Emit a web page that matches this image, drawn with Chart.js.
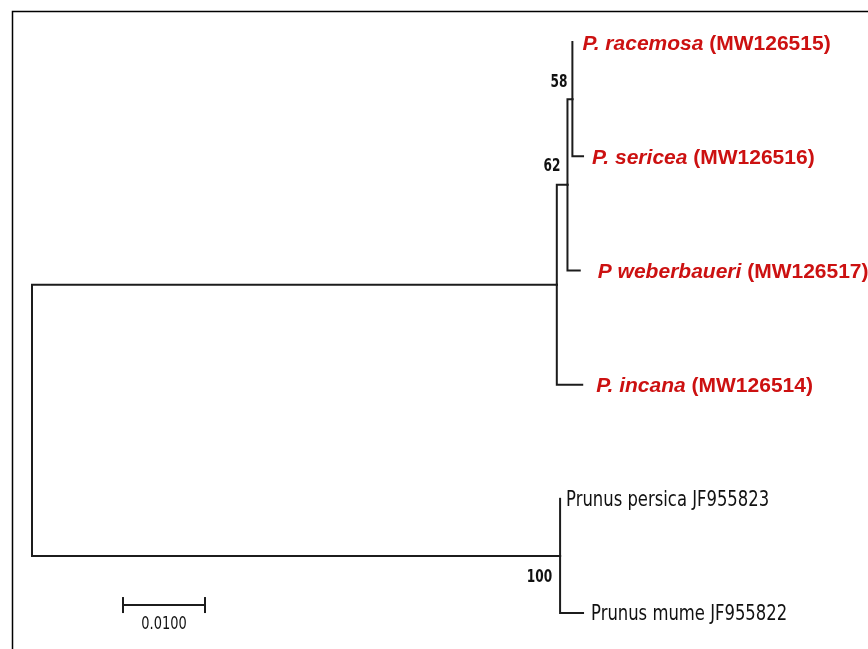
<!DOCTYPE html>
<html>
<head>
<meta charset="utf-8">
<script src="https://cdn.jsdelivr.net/npm/chart.js@4.4.1/dist/chart.umd.min.js"></script>
<style>
  html, body { margin: 0; padding: 0; background: #fff; }
  #wrap { width: 868px; height: 649px; }
</style>
</head>
<body>
<div id="wrap"><canvas id="treeChart" width="868" height="649"></canvas></div>
<script>
// tips (top to bottom)
const taxa = ['P. racemosa', 'P. sericea', 'P weberbaueri', 'P. incana', 'Prunus persica', 'Prunus mume'];
const accessions = ['(MW126515)', '(MW126516)', '(MW126517)', '(MW126514)', 'JF955823', 'JF955822'];
const tipRow = [0, 1, 2, 3, 4, 5];
const tipDepth = [0.0659, 0.0672, 0.0668, 0.0671, 0.0644, 0.0672];
const tipParent = ['n58', 'n58', 'n62', 'andean', 'prunus', 'prunus'];
const tipHighlight = [true, true, true, true, false, false];

// internal nodes
const nodeIds = ['root', 'andean', 'n62', 'n58', 'prunus'];
const nodeDepth = [0, 0.0640, 0.0653, 0.0659, 0.0644];
const nodeParent = [null, 'root', 'andean', 'n62', 'root'];
const bootstrap = [null, null, 62, 58, 100];

const scaleBarLength = 0.01;
const scaleBarLabel = '0.0100';

document.addEventListener('DOMContentLoaded', function() {
  // work out the row of every internal node from its children
  const nodeRow = {};
  function rowOf(id) {
    if (nodeRow[id] !== undefined) return nodeRow[id];
    const rows = [];
    tipParent.forEach((p, i) => { if (p === id) rows.push(tipRow[i]); });
    nodeParent.forEach((p, i) => { if (p === id) rows.push(rowOf(nodeIds[i])); });
    nodeRow[id] = (Math.min(...rows) + Math.max(...rows)) / 2;
    return nodeRow[id];
  }
  nodeIds.forEach(rowOf);
  const depthOf = id => nodeDepth[nodeIds.indexOf(id)];

  const lineStyle = {
    showLine: true,
    borderColor: '#1c1c1c',
    borderWidth: 2,
    pointRadius: 0,
    borderJoinStyle: 'miter',
    borderCapStyle: 'square',
    tension: 0
  };

  const datasets = [];
  // elbow branches for tips
  taxa.forEach((t, i) => {
    const p = tipParent[i];
    datasets.push(Object.assign({
      label: t,
      data: [
        { x: depthOf(p), y: nodeRow[p] },
        { x: depthOf(p), y: tipRow[i] },
        { x: tipDepth[i], y: tipRow[i] }
      ]
    }, lineStyle));
  });
  // elbow branches for internal nodes
  nodeIds.forEach((id, i) => {
    const p = nodeParent[i];
    if (!p) return;
    datasets.push(Object.assign({
      label: id,
      data: [
        { x: depthOf(p), y: nodeRow[p] },
        { x: depthOf(p), y: nodeRow[id] },
        { x: nodeDepth[i], y: nodeRow[id] }
      ]
    }, lineStyle));
  });

  // scale bar
  const barStart = 0.0111;
  const barRow = 4.93;
  datasets.push({
    label: 'scale',
    data: [{ x: barStart, y: barRow }, { x: barStart + scaleBarLength, y: barRow }],
    showLine: true,
    borderColor: '#1c1c1c',
    borderWidth: 2,
    pointStyle: 'line',
    pointRotation: 90,
    pointRadius: 8,
    pointBorderWidth: 2,
    pointBorderColor: '#1c1c1c'
  });

  // narrow text: squeeze a condensed font sideways
  function narrowText(ctx, text, x, y, align, sx) {
    const w = ctx.measureText(text).width * sx;
    let left = x;
    if (align === 'right') left = x - w;
    else if (align === 'center') left = x - w / 2;
    ctx.save();
    ctx.textAlign = 'left';
    ctx.translate(left, y);
    ctx.scale(sx, 1);
    ctx.fillText(text, 0, 0);
    ctx.restore();
  }

  const treeLabels = {
    id: 'treeLabels',
    afterDatasetsDraw(chart) {
      const ctx = chart.ctx;
      const xs = chart.scales.x, ys = chart.scales.y;
      ctx.save();

      // frame
      ctx.strokeStyle = '#000';
      ctx.lineWidth = 1.5;
      ctx.beginPath();
      ctx.moveTo(12.5, 649);
      ctx.lineTo(12.5, 11.5);
      ctx.lineTo(868, 11.5);
      ctx.stroke();

      // tip labels
      const gaps = [10, 9, 18, 14, 6, 8];
      ctx.textBaseline = 'middle';
      ctx.textAlign = 'left';
      taxa.forEach((t, i) => {
        let x = xs.getPixelForValue(tipDepth[i]) + gaps[i];
        const y = ys.getPixelForValue(tipRow[i]);
        if (tipHighlight[i]) {
          ctx.fillStyle = '#cc1111';
          ctx.font = 'italic bold 21px "Liberation Sans", Arial, sans-serif';
          ctx.fillText(t, x, y + 2);
          x += ctx.measureText(t + ' ').width;
          ctx.font = 'bold 21px "Liberation Sans", Arial, sans-serif';
          ctx.fillText(accessions[i], x, y + 2);
        } else {
          ctx.fillStyle = '#111';
          ctx.font = '22px "DejaVu Sans Condensed", "DejaVu Sans", sans-serif';
          narrowText(ctx, t + ' ' + accessions[i], x, y + 1, 'left', 0.83);
        }
      });

      // bootstrap values
      const supportOffset = { n62: [-7, -18], n58: [-5, -17], prunus: [-8, 21] };
      ctx.fillStyle = '#111';
      ctx.font = 'bold 18px "DejaVu Sans Condensed", "DejaVu Sans", sans-serif';
      nodeIds.forEach((id, i) => {
        if (bootstrap[i] == null) return;
        const off = supportOffset[id];
        narrowText(ctx, String(bootstrap[i]), xs.getPixelForValue(nodeDepth[i]) + off[0],
          ys.getPixelForValue(nodeRow[id]) + off[1], 'right', 0.75);
      });

      // scale bar label
      ctx.font = '18px "DejaVu Sans Condensed", "DejaVu Sans", sans-serif';
      narrowText(ctx, scaleBarLabel, xs.getPixelForValue(barStart + scaleBarLength / 2),
        ys.getPixelForValue(barRow) + 19, 'center', 0.8);
      ctx.restore();
    }
  };

  new Chart(document.getElementById('treeChart').getContext('2d'), {
    type: 'scatter',
    data: { datasets: datasets },
    options: {
      responsive: false,
      animation: false,
      devicePixelRatio: 1,
      layout: { padding: 0, autoPadding: false },
      scales: {
        x: { type: 'linear', display: false, min: -0.003902, max: 0.10195 },
        y: { type: 'linear', display: false, reverse: true, min: -0.368, max: 5.315 }
      },
      plugins: {
        legend: { display: false },
        tooltip: { enabled: false }
      }
    },
    plugins: [treeLabels]
  });
});
</script>
</body>
</html>
